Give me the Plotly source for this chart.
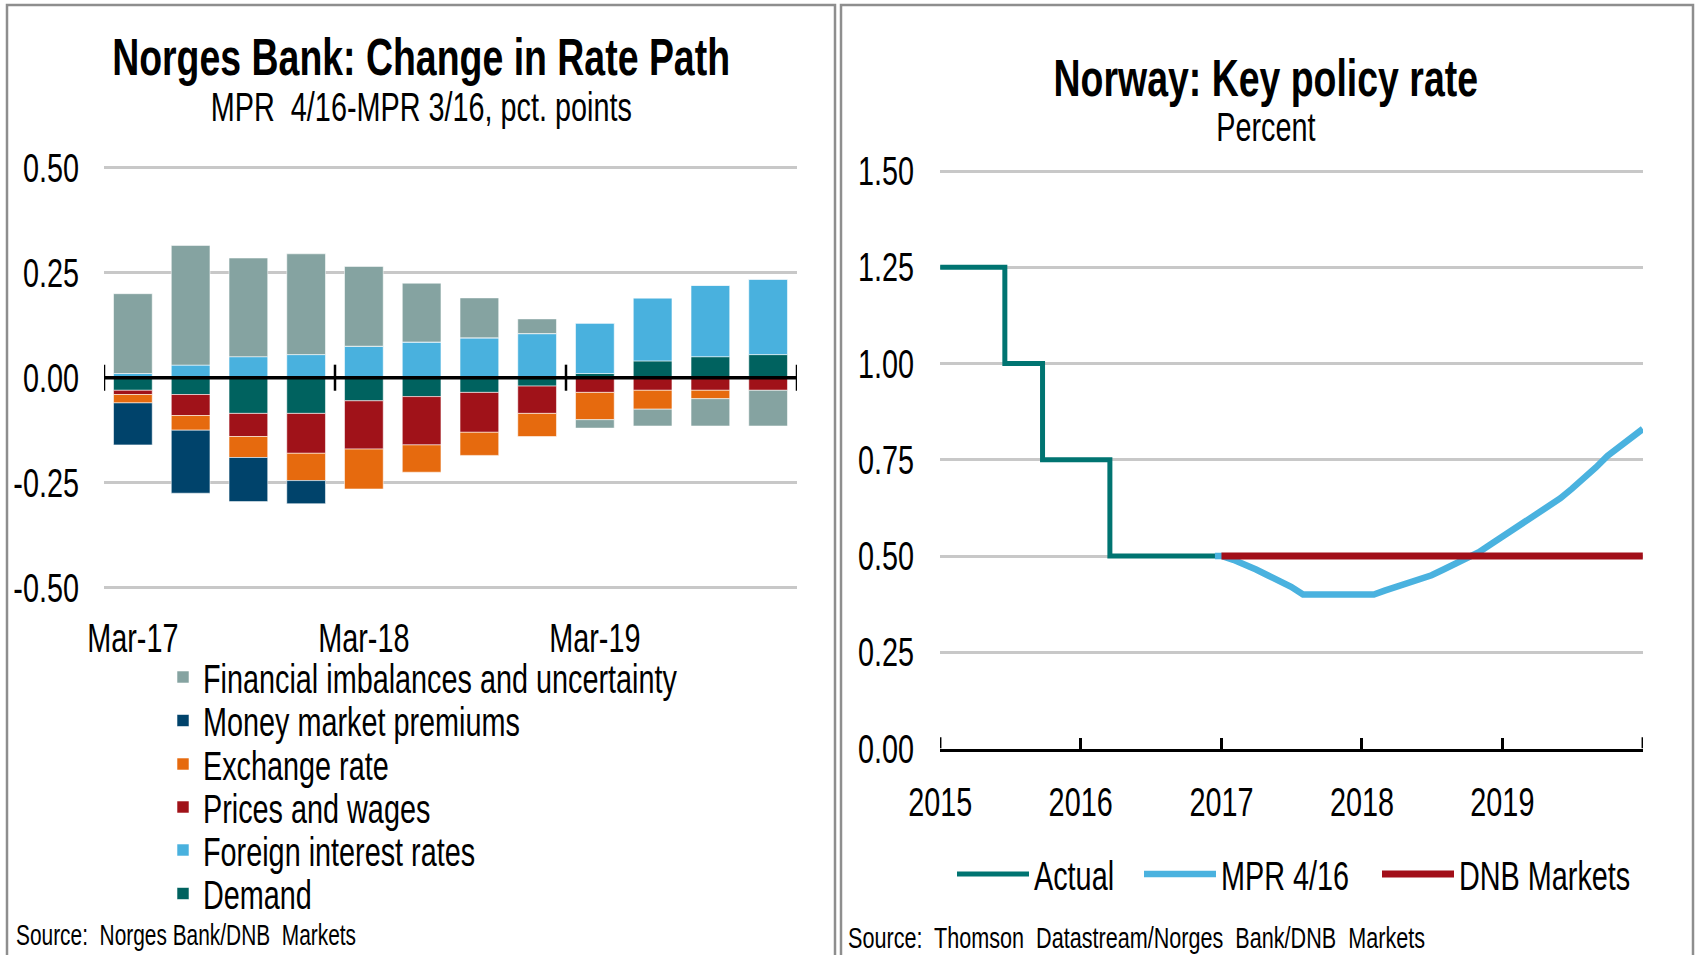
import plotly.graph_objects as go

W, H = 1696, 955
FONT = "Liberation Sans, Arial, Helvetica, sans-serif"
SQUASH = 0.72   # the reference uses a horizontally condensed typeface

# ---------------- Left chart data ----------------
categories = ["Mar-17", "Jun-17", "Sep-17", "Dec-17", "Mar-18", "Jun-18",
              "Sep-18", "Dec-18", "Mar-19", "Jun-19", "Sep-19", "Dec-19"]
demand = [-0.03, -0.04, -0.085, -0.085, -0.055, -0.045, -0.035, -0.02, 0.01, 0.04, 0.05, 0.055]
foreign_rates = [0.01, 0.03, 0.05, 0.055, 0.075, 0.085, 0.095, 0.105, 0.12, 0.15, 0.17, 0.18]
prices_wages = [-0.01, -0.05, -0.055, -0.095, -0.115, -0.115, -0.095, -0.065, -0.035, -0.03, -0.03, -0.03]
exchange_rate = [-0.02, -0.035, -0.05, -0.065, -0.095, -0.065, -0.055, -0.055, -0.065, -0.045, -0.02, 0.0]
money_market = [-0.10, -0.15, -0.105, -0.055, 0.0, 0.0, 0.0, 0.0, 0.0, 0.0, 0.0, 0.0]
financial = [0.19, 0.285, 0.235, 0.24, 0.19, 0.14, 0.095, 0.035, -0.02, -0.04, -0.065, -0.085]

left_yticks = [-0.5, -0.25, 0.0, 0.25, 0.5]
left_yticktext = ["-0.50", "-0.25", "0.00", "0.25", "0.50"]
left_xlabels = ["Mar-17", "Mar-18", "Mar-19"]

# ---------------- Right chart data ----------------
actual_dates = ["2015-01-01", "2015-06-18", "2015-09-24", "2016-03-17", "2016-12-31"]
actual_vals = [1.25, 1.00, 0.75, 0.50, 0.50]

mpr_dates = ["2016-12-15", "2017-01-01", "2017-02-01", "2017-03-01", "2017-04-01", "2017-05-01",
             "2017-06-01", "2017-07-01", "2017-08-01", "2017-09-01", "2017-10-01", "2017-11-01",
             "2017-12-01", "2018-01-01", "2018-02-01", "2018-03-01", "2018-04-01", "2018-05-01",
             "2018-06-01", "2018-07-01", "2018-08-01", "2018-09-01", "2018-10-01", "2018-11-01",
             "2018-12-01", "2019-01-01", "2019-02-01", "2019-03-01", "2019-04-01", "2019-05-01",
             "2019-06-01", "2019-07-01", "2019-08-01", "2019-09-01", "2019-10-01", "2019-11-01",
             "2019-12-01", "2020-01-01"]
mpr_vals = [0.50, 0.50, 0.49, 0.48, 0.465, 0.45,
            0.435, 0.42, 0.40, 0.40, 0.40, 0.40,
            0.40, 0.40, 0.40, 0.41, 0.42, 0.43,
            0.44, 0.45, 0.465, 0.48, 0.495, 0.51,
            0.53, 0.55, 0.57, 0.59, 0.61, 0.63,
            0.65, 0.675, 0.70, 0.73, 0.76, 0.785,
            0.81, 0.83]

dnb_dates = ["2017-01-01", "2020-01-01"]
dnb_vals = [0.50, 0.50]

right_yticks = [0.0, 0.25, 0.5, 0.75, 1.0, 1.25, 1.5]
year_ticks = ["2015-01-01", "2016-01-01", "2017-01-01", "2018-01-01", "2019-01-01", "2020-01-01"]
year_labels = ["2015", "2016", "2017", "2018", "2019", ""]

# colours
C_FIN = "#85A3A1"
C_MMP = "#00436B"
C_EXC = "#E66A0E"
C_PRI = "#A01219"
C_FOR = "#49B1DE"
C_DEM = "#00625F"
C_ACT = "#007471"
C_MPR = "#4AB2DF"
C_DNB = "#A20F19"
GRID = "#C8C8C8"


def px_x(p):
    return p / W


def px_y(p):
    return 1 - p / H


fig = go.Figure()

xs = list(range(len(categories)))
# stacking order (from zero outwards) = trace order
bar_series = [
    ("Demand", demand, C_DEM, "legend6"),
    ("Foreign interest rates", foreign_rates, C_FOR, "legend5"),
    ("Prices and wages", prices_wages, C_PRI, "legend4"),
    ("Exchange rate", exchange_rate, C_EXC, "legend3"),
    ("Money market premiums", money_market, C_MMP, "legend2"),
    ("Financial imbalances and uncertainty", financial, C_FIN, "legend"),
]
for name, vals, col, leg in bar_series:
    fig.add_trace(go.Bar(
        x=xs, y=vals, name=name, width=0.67,
        marker=dict(color=col, line=dict(color="rgba(255,255,255,0.55)", width=1)),
        xaxis="x", yaxis="y", legend=leg,
        hovertext=categories,
    ))

fig.add_trace(go.Scatter(x=actual_dates, y=actual_vals, name="Actual", mode="lines",
                         line=dict(color=C_ACT, width=5, shape="hv"),
                         xaxis="x2", yaxis="y2", legend="legend7"))
fig.add_trace(go.Scatter(x=mpr_dates, y=mpr_vals, name="MPR 4/16", mode="lines",
                         line=dict(color=C_MPR, width=6.5, shape="linear"),
                         xaxis="x2", yaxis="y2", legend="legend8"))
fig.add_trace(go.Scatter(x=dnb_dates, y=dnb_vals, name="DNB Markets", mode="lines",
                         line=dict(color=C_DNB, width=7),
                         xaxis="x2", yaxis="y2", legend="legend9"))

shapes = []
# panel borders
shapes.append(dict(type="rect", xref="paper", yref="paper",
                   x0=px_x(7), x1=px_x(835), y0=-0.02, y1=px_y(5),
                   line=dict(color="#8E8E8E", width=2.5), layer="below"))
shapes.append(dict(type="rect", xref="paper", yref="paper",
                   x0=px_x(841), x1=px_x(1693), y0=-0.02, y1=px_y(5),
                   line=dict(color="#8E8E8E", width=2.5), layer="below"))
# zero line of the bar chart, drawn above the bars
shapes.append(dict(type="line", xref="x", yref="y", x0=-0.5, x1=len(categories) - 0.5,
                   y0=0, y1=0, line=dict(color="black", width=3.5), layer="above"))
# tick marks crossing the zero line (category boundaries every 4 quarters)
for b in [-0.5, 3.5, 7.5, 11.5]:
    shapes.append(dict(type="line", xref="x", yref="y", x0=b, x1=b, y0=-0.031, y1=0.031,
                       line=dict(color="black", width=2.5)))
# end ticks of the time axis (first and last year boundary)
for d in [year_ticks[0], year_ticks[-1]]:
    shapes.append(dict(type="line", xref="x2", yref="y2", x0=d, x1=d, y0=0, y1=0.029,
                       line=dict(color="black", width=2.5)))

ann_common = dict(xref="paper", yref="paper", showarrow=False, yanchor="middle")
annotations = [
    dict(text="Norges Bank: Change in Rate Path", x=px_x(421), y=px_y(57), xanchor="center",
         font=dict(size=52, color="black", weight="bold"), **ann_common),
    dict(text="MPR  4/16-MPR 3/16, pct. points", x=px_x(421), y=px_y(107), xanchor="center",
         font=dict(size=40, color="black"), **ann_common),
    dict(text="Norway: Key policy rate", x=px_x(1266), y=px_y(78), xanchor="center",
         font=dict(size=52, color="black", weight="bold"), **ann_common),
    dict(text="Percent", x=px_x(1266), y=px_y(127), xanchor="center",
         font=dict(size=40, color="black"), **ann_common),
    dict(text="Source:  Norges Bank/DNB  Markets", x=px_x(14), y=px_y(935),
         xanchor="left", align="left", font=dict(size=29, color="black"), **ann_common),
    dict(text="Source:  Thomson  Datastream/Norges  Bank/DNB  Markets", x=px_x(846), y=px_y(937),
         xanchor="left", align="left", font=dict(size=30, color="black"), **ann_common),
]

legend_common = dict(xanchor="left", yanchor="middle", orientation="h",
                     entrywidthmode="pixels",
                     font=dict(size=40, color="black"), bgcolor="rgba(0,0,0,0)",
                     borderwidth=0, itemclick=False, itemdoubleclick=False)
left_rows = [677, 720.5, 764, 807, 850, 893.5]
legends = {}
for i, key in enumerate(["legend", "legend2", "legend3", "legend4", "legend5", "legend6"]):
    legends[key] = dict(x=px_x(163), y=px_y(left_rows[i]), entrywidth=560, **legend_common)
for key, xpos in [("legend7", 952), ("legend8", 1139), ("legend9", 1377)]:
    legends[key] = dict(x=px_x(xpos), y=px_y(874), entrywidth=200, itemwidth=72,
                        **legend_common)

fig.update_layout(
    width=W, height=H,
    margin=dict(l=0, r=0, t=0, b=0, autoexpand=False),
    paper_bgcolor="white", plot_bgcolor="white",
    font=dict(family=FONT, size=40, color="black"),
    barmode="relative",
    showlegend=True,
    shapes=shapes,
    annotations=annotations,
    xaxis=dict(domain=[px_x(104), px_x(797)], range=[-0.5, 11.5],
               tickmode="array", tickvals=[0, 4, 8], ticktext=left_xlabels,
               ticks="", showgrid=False, zeroline=False, showline=False,
               ticklabelstandoff=19, anchor="y", automargin=False),
    yaxis=dict(domain=[px_y(591.9), px_y(163.5)], range=[-0.51, 0.51],
               tickmode="array", tickvals=left_yticks, ticktext=left_yticktext,
               showgrid=True, gridcolor=GRID, gridwidth=3,
               zeroline=False, ticks="", showline=False, ticklabelstandoff=24,
               anchor="x", automargin=False),
    xaxis2=dict(domain=[px_x(940), px_x(1643)], type="date",
                range=["2014-12-31 12:00", "2020-01-01 12:00"],
                tickmode="array", tickvals=year_ticks, ticktext=year_labels,
                ticks="inside", ticklen=11, tickwidth=2.5, tickcolor="black",
                showline=True, linecolor="black", linewidth=3,
                showgrid=False, zeroline=False, ticklabelstandoff=16, anchor="y2",
                automargin=False),
    yaxis2=dict(domain=[px_y(748.5), px_y(163.3)], range=[0, 1.52],
                tickmode="array", tickvals=right_yticks, tickformat=".2f",
                showgrid=True, gridcolor=GRID, gridwidth=3,
                zeroline=False, showline=False, ticks="", ticklabelstandoff=25,
                anchor="x2", automargin=False),
    **legends,
)

# page without the default body margin, and every text condensed horizontally
# (it stays real, selectable SVG text)
post_js = """
document.body.style.margin = '0';
var gd = document.getElementById('{plot_id}');
function squash() {
  var texts = gd.querySelectorAll('svg text');
  texts.forEach(function (t) {
    t.removeAttribute('textLength');
    t.removeAttribute('lengthAdjust');
    var len = t.getComputedTextLength();
    if (len > 0) {
      t.setAttribute('textLength', (len * %s).toFixed(2));
      t.setAttribute('lengthAdjust', 'spacingAndGlyphs');
    }
  });
}
squash();
gd.on('plotly_afterplot', squash);
""" % SQUASH

fig.write_html("out.html", post_script=post_js, config={"displayModeBar": False})
